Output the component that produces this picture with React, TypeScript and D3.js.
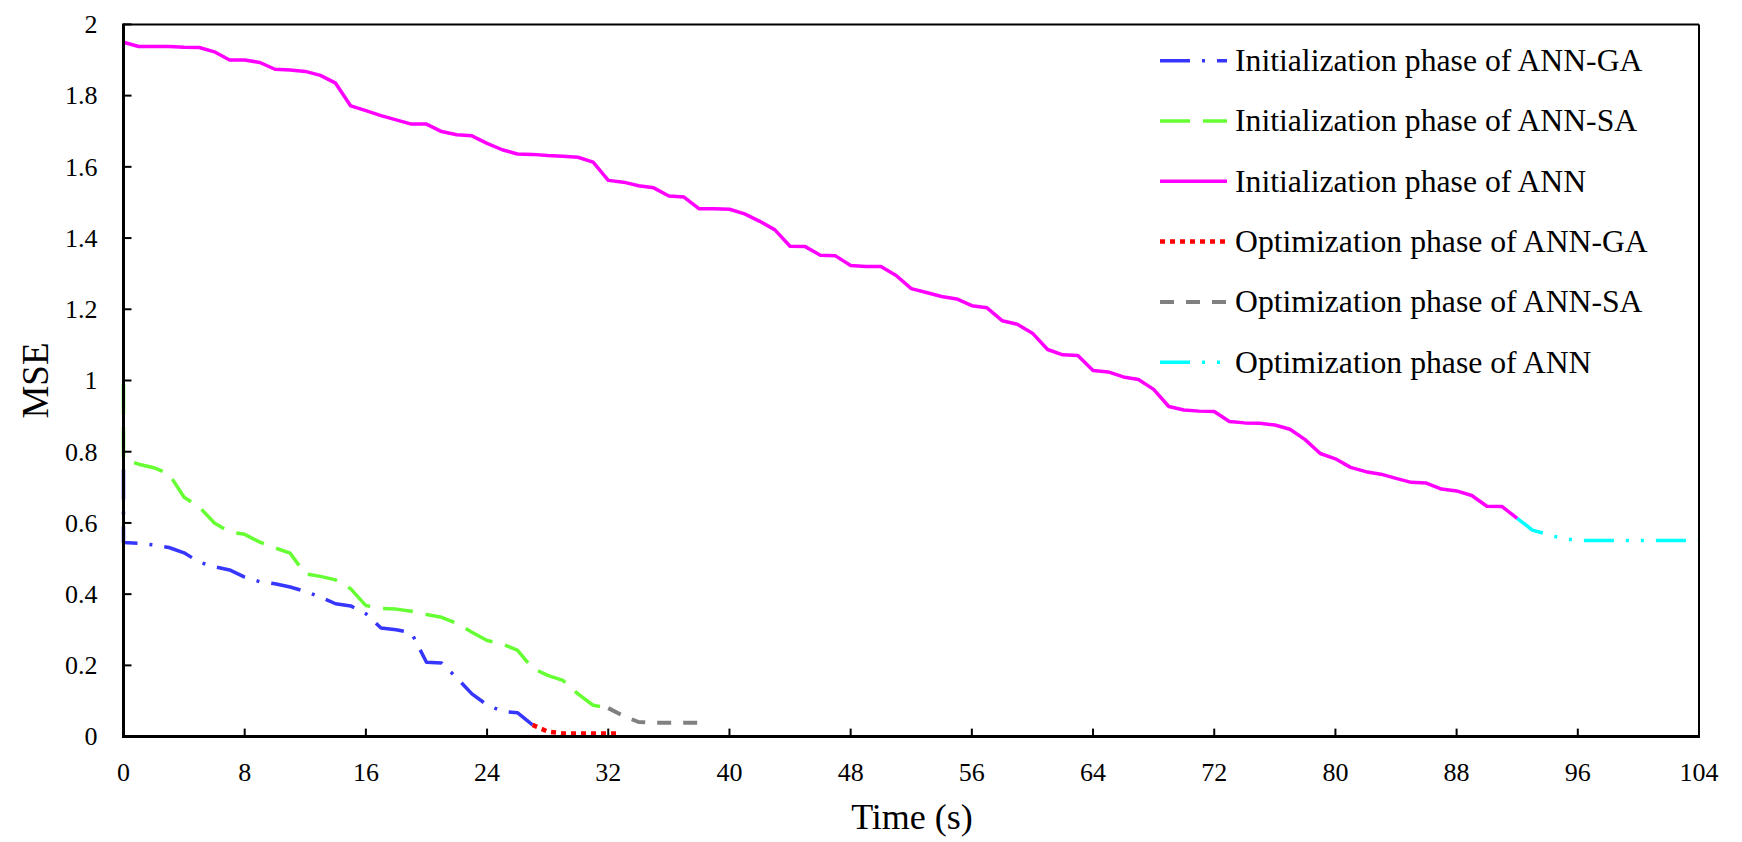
import React from "react";
import * as d3 from "d3";

// ---- Data ----
const annGaInitT = [0, 0, 1, 2, 3, 4, 5, 6, 7, 8, 9, 10, 11, 12, 13, 14, 15, 16, 17, 18, 19, 20, 21, 22, 23, 24, 25, 26, 27];
const annGaInitV = [0.75, 0.545, 0.543, 0.538, 0.531, 0.516, 0.49, 0.477, 0.468, 0.448, 0.435, 0.429, 0.42, 0.408, 0.392, 0.373, 0.367, 0.345, 0.305, 0.3, 0.292, 0.209, 0.207, 0.165, 0.12, 0.089, 0.071, 0.067, 0.033];

const annSaInitT = [0, 0, 1, 2, 3, 4, 5, 6, 7, 8, 9, 10, 11, 12, 13, 14, 15, 16, 17, 18, 19, 20, 21, 22, 23, 24, 25, 26, 27, 28, 29, 30, 31, 32];
const annSaInitV = [0.99, 0.78, 0.765, 0.755, 0.738, 0.672, 0.645, 0.6, 0.575, 0.568, 0.546, 0.53, 0.515, 0.457, 0.45, 0.44, 0.415, 0.368, 0.36, 0.358, 0.352, 0.343, 0.335, 0.318, 0.293, 0.27, 0.26, 0.243, 0.192, 0.172, 0.158, 0.12, 0.088, 0.08];

const annInitV = [
  1.95, 1.938, 1.938, 1.938, 1.936, 1.935, 1.923, 1.9, 1.9, 1.893,
  1.874, 1.872, 1.868, 1.857, 1.835, 1.771, 1.758, 1.744, 1.732, 1.72,
  1.72, 1.699, 1.69, 1.687, 1.666, 1.648, 1.636, 1.635, 1.632, 1.63,
  1.627, 1.613, 1.562, 1.557, 1.547, 1.541, 1.518, 1.515, 1.482, 1.482,
  1.481, 1.468, 1.447, 1.423, 1.377, 1.376, 1.352, 1.35, 1.323, 1.32,
  1.32, 1.295, 1.258, 1.247, 1.236, 1.229, 1.21, 1.204, 1.168, 1.158,
  1.133, 1.087, 1.072, 1.07, 1.028, 1.024, 1.01, 1.003, 0.975, 0.927,
  0.917, 0.914, 0.913, 0.885, 0.881, 0.88, 0.875, 0.863, 0.834, 0.795,
  0.78, 0.756, 0.744, 0.737, 0.725, 0.714, 0.712, 0.695, 0.69, 0.677,
  0.647, 0.646, 0.613,
];
const annInitT = annInitV.map((_, i) => i);

const annGaOptT = [27, 28, 29, 30, 31, 32, 32.6];
const annGaOptV = [0.033, 0.014, 0.009, 0.009, 0.009, 0.009, 0.009];

const annSaOptT = [32, 33, 34, 35, 36, 37, 38];
const annSaOptV = [0.08, 0.058, 0.041, 0.039, 0.039, 0.039, 0.039];

const annOptT = [92, 93, 94, 95, 96, 97, 98, 99, 100, 101, 102, 103, 104];
const annOptV = [0.613, 0.58, 0.568, 0.556, 0.551, 0.551, 0.551, 0.551, 0.551, 0.551, 0.551, 0.551, 0.551];

const xTicks = [0, 8, 16, 24, 32, 40, 48, 56, 64, 72, 80, 88, 96, 104];
const yTicks = [0, 0.2, 0.4, 0.6, 0.8, 1, 1.2, 1.4, 1.6, 1.8, 2];
const yTickLabels = ["0", "0.2", "0.4", "0.6", "0.8", "1", "1.2", "1.4", "1.6", "1.8", "2"];

const seriesNames = [
  "Initialization phase of ANN-GA",
  "Initialization phase of ANN-SA",
  "Initialization phase of ANN",
  "Optimization phase of ANN-GA",
  "Optimization phase of ANN-SA",
  "Optimization phase of ANN",
];

const seriesStyles = [
  { color: "#3636ff", dash: "30,12,3,12", width: 3.5 },
  { color: "#66ff33", dash: "30,13", width: 3.5 },
  { color: "#ff00ff", dash: "", width: 3.5 },
  { color: "#ff0000", dash: "5,5", width: 4.5 },
  { color: "#808080", dash: "14,12", width: 4 },
  { color: "#00ffff", dash: "30,12,3,12,3,12", width: 3.5 },
];

const seriesData = [
  [annGaInitT, annGaInitV],
  [annSaInitT, annSaInitV],
  [annInitT, annInitV],
  [annGaOptT, annGaOptV],
  [annSaOptT, annSaOptV],
  [annOptT, annOptV],
];

const FONT = "'Liberation Serif', 'Times New Roman', Times, serif";

export default function App() {
  const W = 1742;
  const H = 842;
  const left = 123.5;
  const right = 1699;
  const top = 24.4;
  const bottom = 736.6;

  const x = d3.scaleLinear().domain([0, 104]).range([left, right]);
  const y = d3.scaleLinear().domain([0, 2]).range([bottom, top]);

  const line = d3
    .line<[number, number]>()
    .x((d) => x(d[0]))
    .y((d) => y(d[1]));

  const paths = seriesData.map(([ts, vs]) =>
    line(ts.map((t, i) => [t, vs[i]] as [number, number])) || ""
  );

  const legendX0 = 1160;
  const legendX1 = 1227;
  const legendY0 = 60.7;
  const legendStep = 60.3;

  return (
    <svg
      width={W}
      height={H}
      style={{ position: "absolute", left: 0, top: 0, background: "#fff" }}
      fontFamily={FONT}
    >
      <rect x={0} y={0} width={W} height={H} fill="#fff" />

      {/* series */}
      {paths.map((p, i) => (
        <path
          key={i}
          d={p}
          fill="none"
          stroke={seriesStyles[i].color}
          strokeWidth={seriesStyles[i].width}
          strokeDasharray={seriesStyles[i].dash || undefined}
          strokeLinejoin="round"
        />
      ))}

      {/* frame */}
      <line x1={left} x2={right} y1={top} y2={top} stroke="#000" strokeWidth={2} />
      <line x1={right} x2={right} y1={top} y2={bottom} stroke="#000" strokeWidth={2} />
      <line x1={left} x2={left} y1={top - 1} y2={bottom + 1.5} stroke="#000" strokeWidth={3} />
      <line x1={left - 1.5} x2={right + 1} y1={bottom} y2={bottom} stroke="#000" strokeWidth={3} />

      {/* y ticks */}
      {yTicks.map((v, i) => (
        <g key={"y" + i}>
          <line x1={left} x2={left + 8} y1={y(v)} y2={y(v)} stroke="#000" strokeWidth={2} />
          <text x={97.6} y={y(v) + 8.8} textAnchor="end" fontSize={26} fontFamily={FONT} fill="#000">
            {yTickLabels[i]}
          </text>
        </g>
      ))}

      {/* x ticks */}
      {xTicks.map((t, i) => (
        <g key={"x" + i}>
          {t > 0 && t < 104 && (
            <line x1={x(t)} x2={x(t)} y1={bottom} y2={bottom - 8} stroke="#000" strokeWidth={2} />
          )}
          <text x={x(t)} y={781} textAnchor="middle" fontSize={26} fontFamily={FONT} fill="#000">
            {String(t)}
          </text>
        </g>
      ))}

      {/* axis titles */}
      <text x={912} y={829} textAnchor="middle" fontSize={36} fontFamily={FONT} fill="#000">
        Time (s)
      </text>
      <text
        transform={`translate(47.8, ${(top + bottom) / 2}) rotate(-90)`}
        textAnchor="middle"
        fontSize={37}
        fontFamily={FONT}
        fill="#000"
      >
        MSE
      </text>

      {/* legend */}
      {seriesNames.map((name, i) => {
        const ly = legendY0 + i * legendStep;
        return (
          <g key={"lg" + i}>
            <line
              x1={legendX0}
              x2={legendX1}
              y1={ly}
              y2={ly}
              stroke={seriesStyles[i].color}
              strokeWidth={seriesStyles[i].width}
              strokeDasharray={seriesStyles[i].dash || undefined}
            />
            <text x={1235} y={ly + 10.3} fontSize={31.7} fontFamily={FONT} fill="#000">
              {name}
            </text>
          </g>
        );
      })}
    </svg>
  );
}
